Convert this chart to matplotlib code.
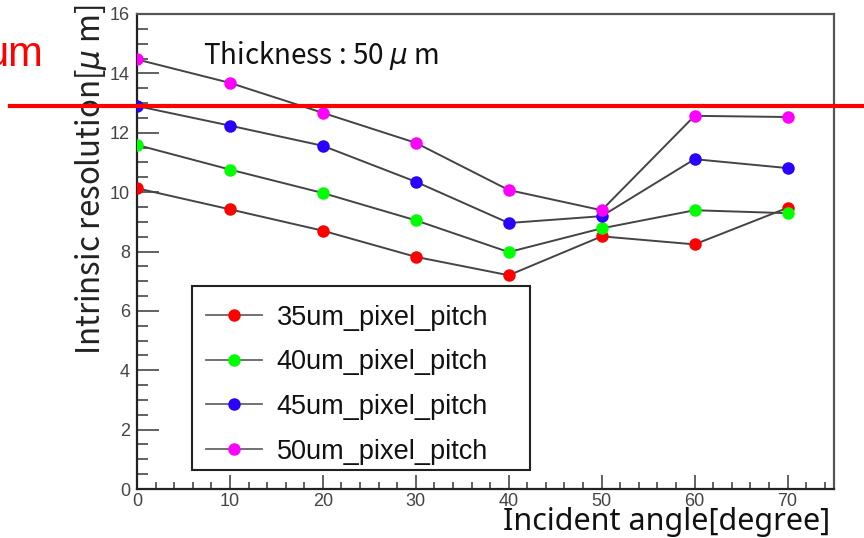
import matplotlib
matplotlib.use("Agg")
import matplotlib.pyplot as plt
from matplotlib.lines import Line2D
from matplotlib.patches import Rectangle
from matplotlib.ticker import MultipleLocator

# Incident angle [degree]
angles = [0, 10, 20, 30, 40, 50, 60, 70]

# Intrinsic resolution [um] per pixel pitch
res_35 = [10.13, 9.42, 8.70, 7.82, 7.20, 8.51, 8.24, 9.47]
res_40 = [11.59, 10.76, 9.97, 9.05, 7.98, 8.78, 9.39, 9.29]
res_45 = [12.90, 12.24, 11.56, 10.35, 8.96, 9.19, 11.11, 10.81]
res_50 = [14.47, 13.68, 12.67, 11.66, 10.07, 9.39, 12.57, 12.53]

series_labels = ["35um_pixel_pitch", "40um_pixel_pitch",
                 "45um_pixel_pitch", "50um_pixel_pitch"]
series_colors = ["#ff0000", "#00ff00", "#2a00ff", "#ff00ff"]

W, H = 864, 538
fig = plt.figure(figsize=(W / 100, H / 100), dpi=100)
ax = fig.add_axes([137 / W, 1 - 489 / H, (834 - 137) / W, (489 - 14) / H])

sans = ["Liberation Sans", "DejaVu Sans"]
jp = ["Noto Sans CJK JP", "DejaVu Sans"]
noto = ["Noto Sans", "DejaVu Sans"]

line_col = "#444444"
for vals, lab, col in zip([res_35, res_40, res_45, res_50], series_labels, series_colors):
    ax.plot(angles, vals, color=line_col, lw=1.4, marker="o", ms=9,
            mfc=col, mec=col, mew=0, label=lab, zorder=3)

ax.set_xlim(0, 75)
ax.set_ylim(0, 16)

ax.xaxis.set_major_locator(MultipleLocator(10))
ax.xaxis.set_minor_locator(MultipleLocator(2))
ax.yaxis.set_major_locator(MultipleLocator(2))
ax.yaxis.set_minor_locator(MultipleLocator(0.5))

ax.tick_params(axis="y", which="major", direction="in", length=16, width=1.3,
               color="#555555", pad=5, labelsize=13, labelcolor="#444444")
ax.tick_params(axis="y", which="minor", direction="in", length=8, width=1.3,
               color="#555555")
ax.tick_params(axis="x", which="major", direction="in", length=10, width=1.3,
               color="#555555", pad=3, labelsize=13, labelcolor="#444444")
ax.tick_params(axis="x", which="minor", direction="in", length=5, width=1.3,
               color="#555555")
for lab in ax.get_xticklabels() + ax.get_yticklabels():
    lab.set_family(sans)

for sp in ax.spines.values():
    sp.set_color("#555555")
    sp.set_linewidth(1.6)
ax.spines["left"].set_color("#222222")
ax.spines["bottom"].set_color("#222222")

ax.set_xlabel("Incident angle[degree]", family=noto, fontsize=22, color="#111111")
ax.xaxis.set_label_coords(1 - 4 / (834 - 137), -(530 - 489) / (489 - 14))
ax.xaxis.label.set_ha("right")
ax.xaxis.label.set_va("baseline")

ax.set_ylabel("Intrinsic resolution[$\\mu$ m]", family=jp, fontsize=22.5, color="#222222")
ax.yaxis.set_label_coords(-28 / (834 - 137), 1.02)
ax.yaxis.label.set_ha("right")

ax.text(203 / W, 1 - 56 / H, "Thickness : 50 $\\mu$ m", transform=fig.transFigure,
        family=jp, fontsize=20, color="#111111", va="center", ha="left")

# Legend box and entries
ax.add_patch(Rectangle((192 / W, 1 - 470 / H), (530 - 192) / W, (470 - 286) / H,
                       transform=fig.transFigure, facecolor="white",
                       edgecolor="#222222", lw=1.5, zorder=4, clip_on=False))
handles = [Line2D([], [], color="#666666", lw=1.3, marker="o", ms=9, mfc=c, mec=c, mew=0)
           for c in series_colors]
leg = ax.legend(handles, series_labels, loc="upper left",
                bbox_to_anchor=(192 / W, 1 - 291 / H), bbox_transform=fig.transFigure,
                prop={"family": sans, "size": 19.5}, frameon=False,
                handlelength=2.1, handletextpad=0.52, borderpad=0.5,
                labelspacing=0.69, borderaxespad=0)
leg.set_zorder(5)
for t in leg.get_texts():
    t.set_color("#111111")

# Red reference line across the figure and its label
fig.add_artist(Line2D([10 / W, 1.0], [1 - 106 / H] * 2, transform=fig.transFigure,
                      color="#ff0000", lw=3, zorder=10))
fig.text(43 / W, 1 - 55 / H, "um", family=sans, fontsize=30, color="#ff0000",
         ha="right", va="center")

fig.savefig("out.png", dpi=100)
